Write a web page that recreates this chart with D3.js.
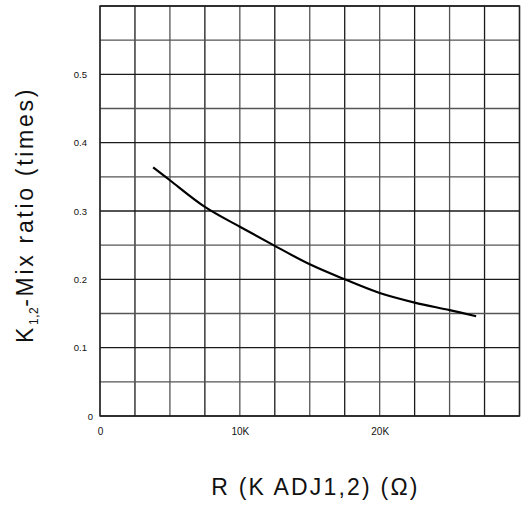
<!DOCTYPE html>
<html>
<head>
<meta charset="utf-8">
<script src="https://cdn.jsdelivr.net/npm/d3@7"></script>
<style>
  html, body { margin: 0; padding: 0; background: #fff; }
  svg { display: block; }
</style>
</head>
<body>
<svg id="chart" width="522" height="507"></svg>
<script>
// ---- data ----
const resistanceK = [3.8, 5, 7.5, 10, 12.5, 15, 17.5, 20, 22.5, 25, 26.9]; // kΩ
const mixRatio    = [0.364, 0.345, 0.306, 0.277, 0.249, 0.222, 0.200, 0.180, 0.166, 0.155, 0.146];
const xTickValues = [0, 10, 20];
const xTickLabels = ["0", "10K", "20K"];
const yTickValues = [0, 0.1, 0.2, 0.3, 0.4, 0.5];
const yTickLabels = ["0", "0.1", "0.2", "0.3", "0.4", "0.5"];
const xGridValues = d3.range(0, 30.01, 2.5);
const yGridValues = d3.range(0, 0.601, 0.05);

// ---- layout ----
const svg = d3.select("#chart");
const mLeft = 100, mRight = 519.5, mTop = 6, mBottom = 416;
const x = d3.scaleLinear().domain([0, 30]).range([mLeft, mRight]);
const y = d3.scaleLinear().domain([0, 0.6]).range([mBottom, mTop]);

const grid = svg.append("g");
grid.selectAll("line.v").data(xGridValues).enter().append("line")
  .attr("x1", d => x(d)).attr("x2", d => x(d))
  .attr("y1", mTop).attr("y2", mBottom)
  .attr("stroke", (d, i) => (i % 2 === 1) ? "#1a1a1a" : "#555")
  .attr("stroke-width", 1.3);
grid.selectAll("line.h").data(yGridValues).enter().append("line")
  .attr("x1", mLeft).attr("x2", mRight)
  .attr("y1", d => y(d)).attr("y2", d => y(d))
  .attr("stroke", (d, i) => (i % 2 === 0) ? "#1a1a1a" : "#555")
  .attr("stroke-width", 1.3);

// border
svg.append("rect")
  .attr("x", mLeft).attr("y", mTop)
  .attr("width", mRight - mLeft).attr("height", mBottom - mTop)
  .attr("fill", "none").attr("stroke", "#222").attr("stroke-width", 1.4);

// ---- axes (labels only) ----
const xAxis = d3.axisBottom(x).tickValues(xTickValues)
  .tickFormat((d, i) => xTickLabels[i]).tickSize(0).tickPadding(12);
const gx = svg.append("g").attr("transform", `translate(0,${mBottom})`).call(xAxis);
gx.select(".domain").remove();
gx.selectAll("text").attr("font-family", "Liberation Sans, Arial, sans-serif")
  .attr("font-size", 10).attr("fill", "#111");

const yAxis = d3.axisLeft(y).tickValues(yTickValues)
  .tickFormat((d, i) => yTickLabels[i]).tickSize(0).tickPadding(13);
const gy = svg.append("g").attr("transform", `translate(${mLeft},0)`).call(yAxis);
gy.select(".domain").remove();
gy.selectAll("text").attr("font-family", "Liberation Sans, Arial, sans-serif")
  .attr("font-size", 9.5).attr("fill", "#111")
  .attr("dx", (d, i) => i === 0 ? 6 : 0);

// ---- curve ----
const pts = resistanceK.map((r, i) => [r, mixRatio[i]]);
const line = d3.line().x(d => x(d[0])).y(d => y(d[1])).curve(d3.curveCatmullRom);
svg.append("path").datum(pts)
  .attr("d", line).attr("fill", "none")
  .attr("stroke", "#000").attr("stroke-width", 2.2);

// ---- titles ----
svg.append("text")
  .attr("x", 315.5).attr("y", 495)
  .attr("text-anchor", "middle")
  .attr("font-family", "Liberation Sans, Arial, sans-serif")
  .attr("font-size", 23).attr("letter-spacing", 2.2).attr("fill", "#111")
  .text("R (K ADJ1,2) (\u03A9)");

const yt = svg.append("text")
  .attr("transform", "translate(33,215) rotate(-90)")
  .attr("text-anchor", "middle")
  .attr("font-family", "Liberation Sans, Arial, sans-serif")
  .attr("font-size", 23).attr("letter-spacing", 2.7).attr("fill", "#111");
yt.append("tspan").text("K");
yt.append("tspan").attr("font-size", 12).attr("letter-spacing", 0.5).attr("dy", 5).text("1,2");
yt.append("tspan").attr("dy", -5).text("-Mix ratio (times)");
</script>
</body>
</html>
